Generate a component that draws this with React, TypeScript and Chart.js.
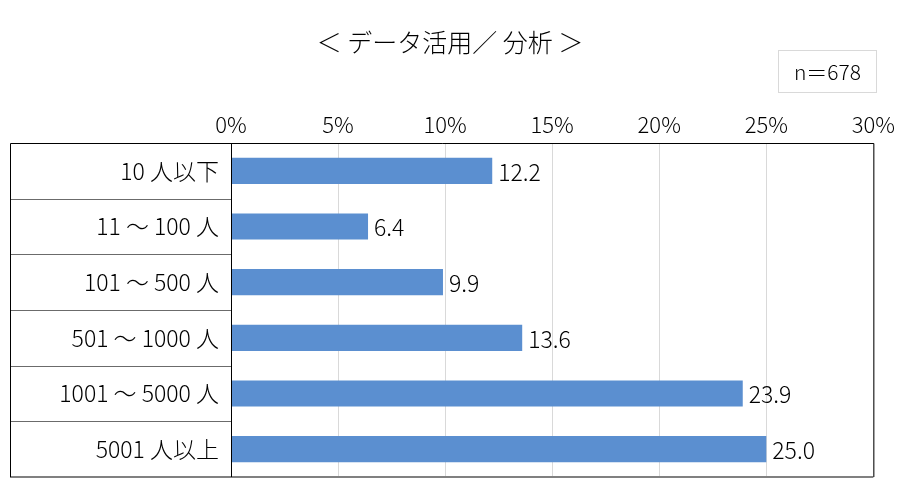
import { useEffect, useRef } from "react"
import { Chart, registerables } from "chart.js"

Chart.register(...registerables)

const categories = ["10 人以下", "11 ～ 100 人", "101 ～ 500 人", "501 ～ 1000 人", "1001 ～ 5000 人", "5001 人以上"]
const values = [12.2, 6.4, 9.9, 13.6, 23.9, 25.0]
const xTicks = [0, 5, 10, 15, 20, 25, 30]

const FONT = "'Noto Sans CJK JP', 'Noto Sans', sans-serif"

// table borders round the label column and plot
const framePlugin = {
  id: "frame",
  afterDraw(chart: any) {
    const { ctx, chartArea } = chart
    const yScale = chart.scales.y
    const left = 10
    const { top, bottom, right } = chartArea
    ctx.save()
    ctx.lineWidth = 1
    // row separators in label column
    ctx.strokeStyle = "#6b6b6b"
    for (let i = 1; i < categories.length; i++) {
      const y = Math.round((yScale.getPixelForValue(i - 1) + yScale.getPixelForValue(i)) / 2) + 0.5
      ctx.beginPath()
      ctx.moveTo(left, y)
      ctx.lineTo(chartArea.left, y)
      ctx.stroke()
    }
    // bottom line
    ctx.strokeStyle = "#808080"
    ctx.lineWidth = 2
    ctx.beginPath()
    ctx.moveTo(left, bottom)
    ctx.lineTo(right, bottom)
    ctx.stroke()
    // black lines
    ctx.strokeStyle = "#000"
    ctx.lineWidth = 1
    ctx.beginPath()
    ctx.moveTo(left + 0.5, bottom)
    ctx.lineTo(left + 0.5, top + 0.5)
    ctx.lineTo(right + 0.5, top + 0.5)
    ctx.lineTo(right + 0.5, bottom)
    ctx.moveTo(chartArea.left + 0.5, top)
    ctx.lineTo(chartArea.left + 0.5, bottom)
    ctx.stroke()
    ctx.restore()
  },
}

const valueLabels = {
  id: "valueLabels",
  afterDatasetsDraw(chart: any) {
    const { ctx } = chart
    const meta = chart.getDatasetMeta(0)
    ctx.save()
    ctx.font = `300 23px ${FONT}`
    ctx.fillStyle = "#000"
    ctx.textAlign = "left"
    ctx.textBaseline = "middle"
    meta.data.forEach((bar: any, i: number) => {
      ctx.fillText(values[i].toFixed(1), bar.x + 6, bar.y + 1)
    })
    ctx.restore()
  },
}

export default function App() {
  const chartRef = useRef<HTMLCanvasElement>(null)
  const chartInstance = useRef<Chart | null>(null)

  useEffect(() => {
    document.body.style.margin = "0"
    if (chartRef.current) {
      const ctx = chartRef.current.getContext("2d")

      if (ctx) {
        if (chartInstance.current) {
          chartInstance.current.destroy()
        }

        chartInstance.current = new Chart(ctx, {
          type: "bar",
          data: {
            labels: categories,
            datasets: [
              {
                data: values,
                backgroundColor: "#5b8fd0",
                borderWidth: 0,
                barPercentage: 0.47,
                categoryPercentage: 1,
              },
            ],
          },
          options: {
            indexAxis: "y",
            animation: false,
            responsive: true,
            maintainAspectRatio: false,
            layout: {
              padding: { left: 10, right: 24, top: 100, bottom: 26 },
            },
            scales: {
              x: {
                position: "top",
                min: 0,
                max: 30,
                afterBuildTicks: (scale: any) => {
                  scale.ticks = xTicks.map((v) => ({ value: v }))
                },
                afterFit: (scale: any) => {
                  scale.height = 43
                },
                ticks: {
                  padding: 5,
                  color: "#000",
                  font: { family: FONT, size: 22, weight: "300" },
                  callback: (v: any) => v + "%",
                },
                grid: {
                  color: "#d9d9d9",
                  drawTicks: false,
                },
                border: { display: false },
              },
              y: {
                afterFit: (scale: any) => {
                  scale.width = 221
                },
                ticks: {
                  padding: 12,
                  color: "#000",
                  font: { family: FONT, size: 23, weight: "300" },
                },
                grid: { display: false, drawTicks: false },
                border: { display: false },
              },
            },
            plugins: {
              legend: { display: false },
              tooltip: { enabled: false },
            },
          },
          plugins: [framePlugin, valueLabels],
        })
      }
    }

    return () => {
      if (chartInstance.current) {
        chartInstance.current.destroy()
        chartInstance.current = null
      }
    }
  }, [])

  return (
    <div style={{ position: "relative", width: "900px", height: "503px", background: "#fff", fontFamily: FONT, fontWeight: 300 }}>
      <div
        style={{
          position: "absolute",
          left: 0,
          width: "900px",
          top: "24px",
          textAlign: "center",
          fontSize: "25px",
          lineHeight: "34px",
          color: "#000",
        }}
      >
        ＜ データ活用／ 分析 ＞
      </div>
      <div
        style={{
          position: "absolute",
          left: "778px",
          top: "50px",
          width: "97px",
          height: "41px",
          border: "1px solid #d9d9d9",
          fontSize: "21px",
          lineHeight: "41px",
          textAlign: "center",
          color: "#000",
        }}
      >
        n＝678
      </div>
      <canvas ref={chartRef}></canvas>
    </div>
  )
}
